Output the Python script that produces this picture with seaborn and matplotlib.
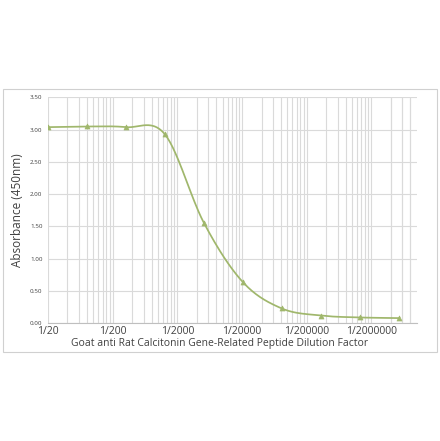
import numpy as np
import pandas as pd
import matplotlib
matplotlib.use("Agg")
import matplotlib.pyplot as plt
import matplotlib.ticker as mticker
import seaborn as sns

# dilution denominators (1/x) and absorbance
dilution = [20, 80, 320, 1280, 5120, 20480, 81920, 327680, 1310720, 5242880]
absorbance = [3.04, 3.05, 3.04, 2.93, 1.56, 0.64, 0.23, 0.12, 0.09, 0.08]
x_ticks = [20, 200, 2000, 20000, 200000, 2000000]
y_ticks = [0.0, 0.5, 1.0, 1.5, 2.0, 2.5, 3.0, 3.5]

df = pd.DataFrame({"dilution": dilution, "absorbance": absorbance})

green = "#a0b76c"
grid_c = "#dadada"


def smooth(xs, ys, n=30):
    # catmull-rom in log-x space, like excel's smoothed line
    lx = np.log10(np.array(xs, dtype=float))
    y = np.array(ys, dtype=float)
    px = np.concatenate([[lx[0]], lx, [lx[-1]]])
    py = np.concatenate([[y[0]], y, [y[-1]]])
    out_x, out_y = [], []
    t = np.linspace(0, 1, n)
    for i in range(1, len(px) - 2):
        p0, p1, p2, p3 = px[i-1], px[i], px[i+1], px[i+2]
        q0, q1, q2, q3 = py[i-1], py[i], py[i+1], py[i+2]
        bx = [p1, p1 + (p2 - p0) / 6, p2 - (p3 - p1) / 6, p2]
        by = [q1, q1 + (q2 - q0) / 6, q2 - (q3 - q1) / 6, q2]
        cx = ((1-t)**3*bx[0] + 3*(1-t)**2*t*bx[1] + 3*(1-t)*t**2*bx[2] + t**3*bx[3])
        cy = ((1-t)**3*by[0] + 3*(1-t)**2*t*by[1] + 3*(1-t)*t**2*by[2] + t**3*by[3])
        out_x.extend(cx)
        out_y.extend(cy)
    return 10**np.array(out_x), np.array(out_y)


sns.set_style("white")
plt.rcParams["font.family"] = ["Open Sans", "DejaVu Sans"]

fig = plt.figure(figsize=(4.4, 4.41), dpi=100)
ax = fig.add_axes([0.109, 0.267, 0.838, 0.512])

sx, sy = smooth(dilution, absorbance)
ax.plot(sx, sy, color=green, lw=1.25, zorder=3)
sns.scatterplot(data=df, x="dilution", y="absorbance", marker="^", s=13,
                color=green, edgecolor=green, linewidth=0.5, ax=ax, zorder=4)

ax.set_xscale("log")
ax.set_xlim(20, 1e7)
ax.set_ylim(0, 3.5)

ax.xaxis.set_major_locator(mticker.FixedLocator(x_ticks))
minor = [d * k for d in x_ticks for k in range(2, 10)]
minor += [2e7 * k / 10 for k in range(1, 5)]
ax.xaxis.set_minor_locator(mticker.FixedLocator([m for m in minor if m < 1e7]))
ax.xaxis.set_major_formatter(mticker.FuncFormatter(lambda v, p: f"1/{int(round(v))}"))
ax.xaxis.set_minor_formatter(mticker.NullFormatter())
ax.set_yticks(y_ticks)
ax.yaxis.set_major_formatter(mticker.FormatStrFormatter("%.2f"))

ax.grid(True, which="major", axis="both", color=grid_c, lw=0.8)
ax.grid(True, which="minor", axis="x", color=grid_c, lw=0.8)
ax.set_axisbelow(True)

ax.tick_params(axis="x", which="both", length=0, labelsize=7.5, colors="#404040", pad=2)
ax.tick_params(axis="y", length=0, labelsize=4.5, colors="#404040", pad=4)
for s in ["top", "right", "left"]:
    ax.spines[s].set_visible(False)
ax.spines["bottom"].set_color("#bfbfbf")
ax.spines["bottom"].set_linewidth(0.8)

ax.set_xlabel("Goat anti Rat Calcitonin Gene-Related Peptide Dilution Factor",
              fontsize=7.5, color="#404040")
ax.xaxis.set_label_coords(0.466, -0.065)
ax.set_ylabel("Absorbance (450nm)", fontsize=8.5, color="#404040", labelpad=4)

# outer chart frame
fig.patches.append(plt.Rectangle((3/440, 1 - 352/441), 434/440, 263/441,
                                 transform=fig.transFigure, fill=False,
                                 edgecolor="#d0d0d0", lw=0.8))

fig.savefig("out.png", dpi=100)
